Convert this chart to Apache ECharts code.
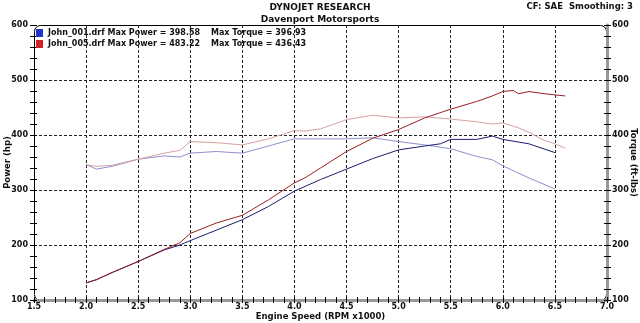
<!DOCTYPE html>
<html><head><meta charset="utf-8">
<script src="https://cdn.jsdelivr.net/npm/echarts@6/dist/echarts.min.js"></script>
<style>html,body{margin:0;padding:0;background:#fff}#c{width:640px;height:323px}</style>
</head><body><div id="c"></div>
<script>
const rpm001 = [2.0,2.1,2.25,2.5,2.75,2.9,3.0,3.25,3.5,3.75,4.0,4.25,4.5,4.75,5.0,5.25,5.4,5.5,5.75,5.9,6.0,6.25,6.5];
const power001 = [131,137,150,170,191,200,208,227,246,270,298,319,338,357,373,380,384,392,392,398,392,384,368];
const torque001 = [346,338,343,356,362,360,367,370,367,380,393,393,393,395,388,382,378,375,361,355,344,322,302];
const rpm005 = [2.0,2.1,2.25,2.5,2.75,2.9,3.0,3.25,3.5,3.75,4.0,4.1,4.25,4.5,4.75,5.0,5.25,5.5,5.75,5.9,6.0,6.1,6.15,6.25,6.4,6.5,6.6];
const power005 = [131,137,150,170,192,204,221,240,254,282,313,322,340,370,394,410,431,447,461,471,479,481,475,479,475,473,471];
const torque005 = [346,343,345,356,367,372,388,386,382,393,408,407,411,428,436,431,433,429,424,420,422,416,413,405,390,384,376];
const runNames = ['John_001.drf','John_005.drf'];
const maxPower = ['398.58','483.22'];
const maxTorque = ['396.93','436.43'];
const titleText = 'DYNOJET RESEARCH';
const subText = 'Davenport Motorsports';
const cornerText = 'CF: SAE  Smoothing: 3';

const F = 'DejaVu Sans';
const pairs = (xs, ys) => xs.map((x, i) => [x, ys[i]]);
const chart = echarts.init(document.getElementById('c'), null, {renderer: 'canvas'});
const gridBox = {left: 34, right: 33, top: 25, bottom: 23, containLabel: false, outerBoundsMode: 'none'};
const dash = {type: [3, 2], color: '#222', width: 1};
const lbl = {fontFamily: F, fontWeight: 'bold', fontSize: 8, color: '#111'};
const nameStyle = {fontFamily: F, fontWeight: 'bold', fontSize: 8.5, color: '#111'};

chart.setOption({
  backgroundColor: '#fff',
  animation: false,
  title: [
    {text: titleText, left: 'center', top: 3, padding: 0, textStyle: {fontFamily: F, fontWeight: 'bold', fontSize: 9, color: '#111'}},
    {text: subText, left: 'center', top: 15, padding: 0, textStyle: {fontFamily: F, fontWeight: 'bold', fontSize: 9, color: '#111'}},
    {text: cornerText, right: 7, top: 2, padding: 0, textStyle: {fontFamily: F, fontWeight: 'bold', fontSize: 8.5, color: '#111'}}
  ],
  graphic: [{
    type: 'rect', z: -10, silent: true,
    shape: {x: 34.5, y: 25.5, width: 572, height: 275, r: 6},
    style: {fill: '#fff', stroke: '#000', lineWidth: 1}
  }],
  legend: {
    orient: 'vertical', left: 36, top: 29, padding: 0, itemWidth: 7, itemHeight: 8, itemGap: 3,
    icon: 'rect',
    data: [
      {name: runNames[0], itemStyle: {color: '#2233cc'}},
      {name: runNames[1], itemStyle: {color: '#d02222'}}
    ],
    formatter: n => {
      const i = runNames.indexOf(n);
      return '{a|' + n + ' Max Power = ' + maxPower[i] + '}{b|Max Torque = ' + maxTorque[i] + '}';
    },
    textStyle: {
      rich: {
        a: {fontFamily: F, fontWeight: 'bold', fontSize: 8, color: '#111', width: 163},
        b: {fontFamily: F, fontWeight: 'bold', fontSize: 8, color: '#111'}
      }
    }
  },
  grid: [Object.assign({}, gridBox), Object.assign({}, gridBox)],
  xAxis: [{
    gridIndex: 0, type: 'value', min: 1.5, max: 7.0, interval: 0.5, position: 'bottom',
    name: 'Engine Speed (RPM x1000)', nameLocation: 'middle', nameGap: 12, nameMoveOverlap: false,
    nameTextStyle: nameStyle,
    axisLine: {lineStyle: {color: '#999', width: 3}},
    axisTick: {inside: false, length: 3, lineStyle: {color: '#000'}},
    minorTick: {show: true, splitNumber: 5, length: 3, lineStyle: {color: '#000'}},
    axisLabel: Object.assign({margin: 3, formatter: v => v.toFixed(1)}, lbl),
    splitLine: {show: true, showMinLine: false, showMaxLine: false, lineStyle: dash}
  }, {
    gridIndex: 1, type: 'value', min: 1.5, max: 7.0, interval: 0.5, position: 'bottom',
    axisLine: {show: false},
    axisTick: {inside: true, length: 3, lineStyle: {color: '#000'}},
    minorTick: {show: true, splitNumber: 5, length: 3, lineStyle: {color: '#000'}},
    axisLabel: {show: false}, splitLine: {show: false}
  }],
  yAxis: [{
    gridIndex: 0, type: 'value', min: 100, max: 600, interval: 100, position: 'left',
    name: 'Power (hp)', nameLocation: 'middle', nameGap: 22, nameRotate: 90, nameMoveOverlap: false,
    nameTextStyle: nameStyle,
    axisLine: {show: false},
    axisTick: {show: true, inside: false, length: 4, lineStyle: {color: '#000'}},
    minorTick: {show: true, splitNumber: 5, length: 4, lineStyle: {color: '#000'}},
    axisLabel: Object.assign({margin: 6}, lbl),
    splitLine: {show: true, showMinLine: false, showMaxLine: false, lineStyle: dash}
  }, {
    gridIndex: 0, type: 'value', min: 100, max: 600, interval: 100, position: 'right',
    name: 'Torque (ft-lbs)', nameLocation: 'middle', nameGap: 22, nameRotate: -90, nameMoveOverlap: false,
    nameTextStyle: nameStyle,
    axisLine: {show: true, lineStyle: {color: '#999', width: 3}},
    axisTick: {show: true, inside: false, length: 4, lineStyle: {color: '#000'}},
    minorTick: {show: true, splitNumber: 5, length: 4, lineStyle: {color: '#000'}},
    axisLabel: Object.assign({margin: 5}, lbl),
    splitLine: {show: false}
  }, {
    gridIndex: 1, type: 'value', min: 100, max: 600, interval: 100, position: 'left',
    axisLine: {show: false}, axisLabel: {show: false}, splitLine: {show: false},
    axisTick: {show: true, inside: true, length: 3, lineStyle: {color: '#000'}},
    minorTick: {show: true, splitNumber: 5, length: 3, lineStyle: {color: '#000'}}
  }, {
    gridIndex: 1, type: 'value', min: 100, max: 600, interval: 100, position: 'right',
    axisLine: {show: false}, axisLabel: {show: false}, splitLine: {show: false},
    axisTick: {show: true, inside: true, length: 3, lineStyle: {color: '#000'}},
    minorTick: {show: true, splitNumber: 5, length: 3, lineStyle: {color: '#000'}}
  }],
  series: [
    {name: runNames[0], type: 'line', xAxisIndex: 0, yAxisIndex: 1, data: pairs(rpm001, torque001), showSymbol: false, lineStyle: {width: 1, color: '#8f8fcc'}, itemStyle: {color: '#2233cc'}, z: 3},
    {name: runNames[1], type: 'line', xAxisIndex: 0, yAxisIndex: 1, data: pairs(rpm005, torque005), showSymbol: false, lineStyle: {width: 1, color: '#d6a2a2'}, itemStyle: {color: '#d02222'}, z: 3},
    {name: runNames[0], type: 'line', xAxisIndex: 0, yAxisIndex: 0, data: pairs(rpm001, power001), showSymbol: false, lineStyle: {width: 1, color: '#1c1c70'}, itemStyle: {color: '#2233cc'}, z: 4},
    {name: runNames[1], type: 'line', xAxisIndex: 0, yAxisIndex: 0, data: pairs(rpm005, power005), showSymbol: false, lineStyle: {width: 1, color: '#9a2020'}, itemStyle: {color: '#d02222'}, z: 4}
  ]
});
</script></body></html>
